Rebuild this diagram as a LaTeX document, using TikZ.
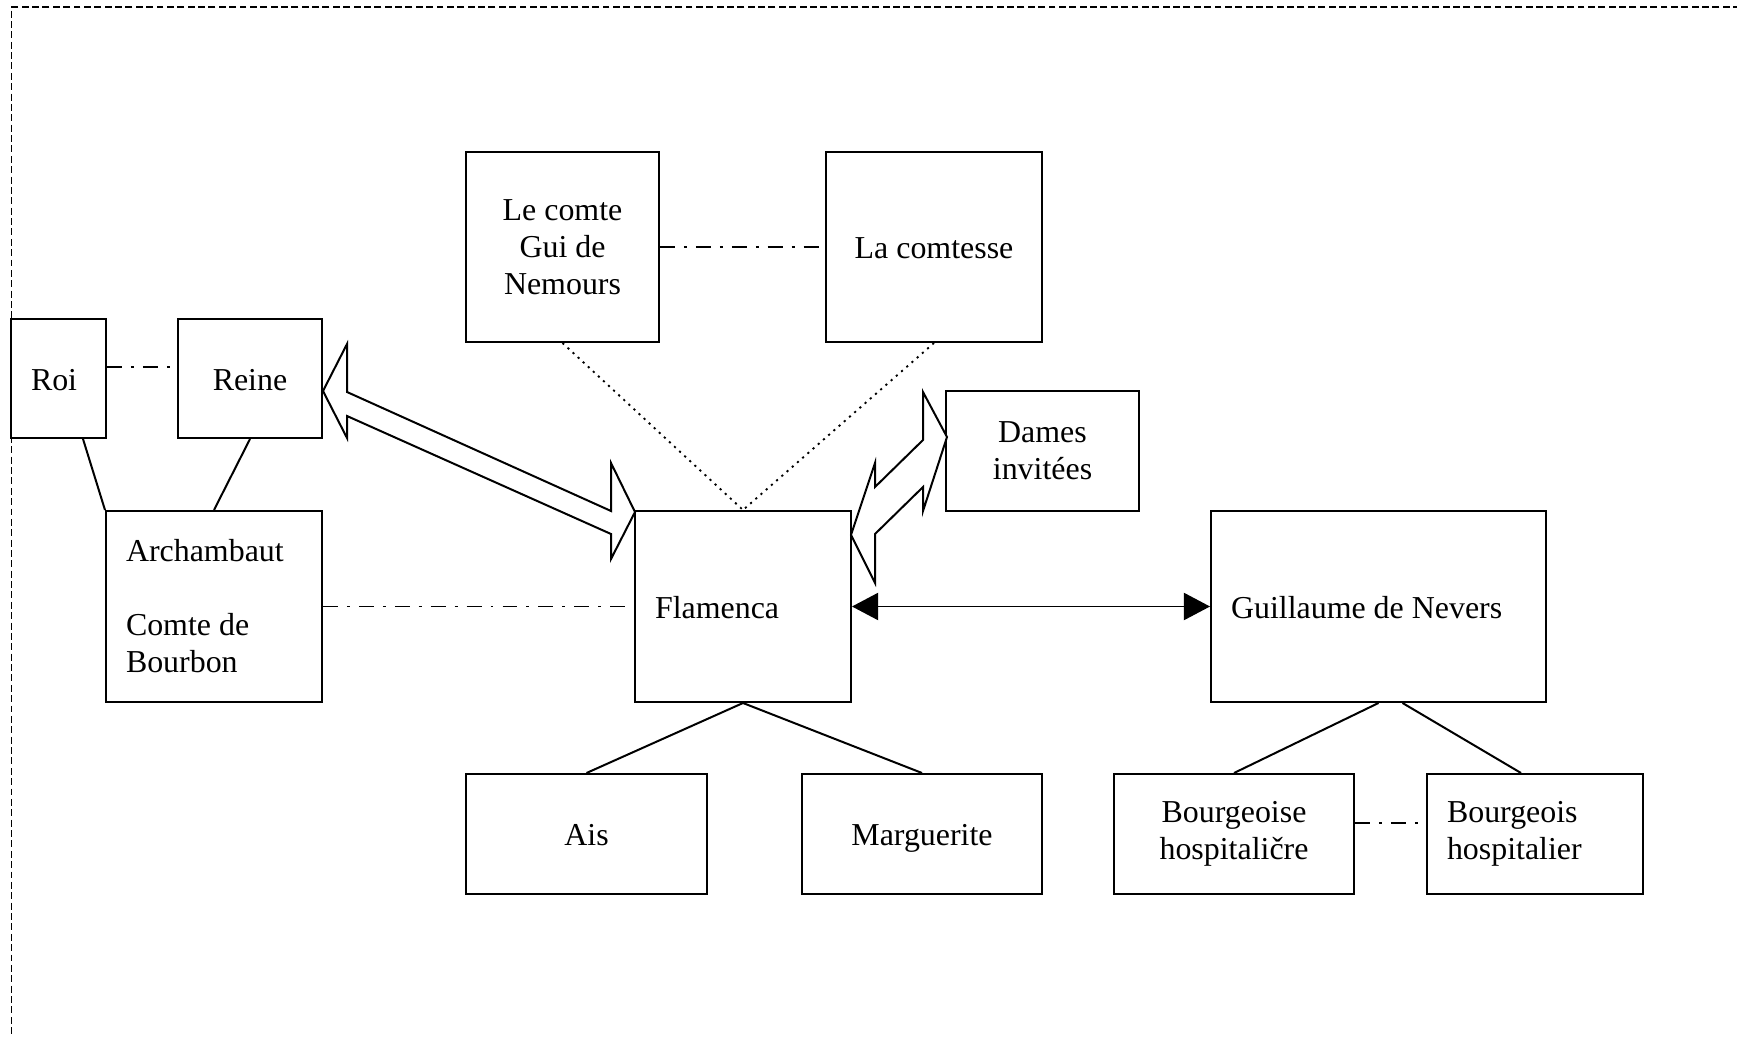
\documentclass[tikz,border=0pt]{standalone}
\usepackage{fontspec}
\setmainfont{Liberation Serif}
\usetikzlibrary{arrows.meta}
\def\pxu{0.376pt}
\begin{document}
\begin{tikzpicture}[x=\pxu, y=-\pxu,
  box/.style={draw, line width=0.75pt, inner sep=0pt, align=center,
    font=\fontsize{12}{13.9}\selectfont},
  lbox/.style={box, align=flush left, inner xsep=20*\pxu},
  oneline/.style={text height=9pt, text depth=0pt},
  dashdot/.style={line width=0.6pt,
    dash pattern=on 5.6pt off 3.4pt on 1.1pt off 3.4pt},
  dots/.style={line width=0.7pt, dash pattern=on 0.8pt off 1.8pt},
  tie/.style={line width=0.75pt},
  blockarrow/.style={draw, fill=white, line width=0.75pt, line join=miter},
  pair/.style={line width=0.6pt,
    {Triangle[length=9.8pt,width=10.2pt]}-{Triangle[length=9.8pt,width=10.2pt]}}]

\useasboundingbox (0,0) rectangle (1737,1037);

% page frame
\draw[line width=0.5pt, dash pattern=on 2.6pt off 1.3pt] (1740,7) -- (11.5,7) -- (11.5,1040);

% persons
\node[lbox, oneline, text width=55*\pxu, minimum height=119*\pxu] (roi) at (58.5,378.5) {Roi};
\node[box, oneline, minimum width=144*\pxu, minimum height=119*\pxu] (reine) at (250,378.5) {Reine};
\node[lbox, text width=176*\pxu, minimum height=191*\pxu] (arch) at (214,606.5)
  {Archambaut\\[13.9pt]Comte de\\Bourbon};
\node[box, minimum width=193*\pxu, minimum height=190*\pxu] (comte) at (562.5,247)
  {Le comte\\Gui de\\Nemours};
\node[box, oneline, minimum width=216*\pxu, minimum height=190*\pxu] (comtesse) at (934,247) {La comtesse};
\node[box, minimum width=193*\pxu, minimum height=120*\pxu] (dames) at (1042.5,451) {Dames\\invitées};
\node[lbox, oneline, text width=176*\pxu, minimum height=191*\pxu] (flam) at (743,606.5) {Flamenca};
\node[lbox, oneline, text width=295*\pxu, minimum height=191*\pxu] (guil) at (1378.5,606.5) {Guillaume de Nevers};
\node[box, oneline, minimum width=241*\pxu, minimum height=120*\pxu] (ais) at (586.5,834) {Ais};
\node[box, oneline, minimum width=240*\pxu, minimum height=120*\pxu] (marg) at (922,834) {Marguerite};
\node[box, minimum width=240*\pxu, minimum height=120*\pxu] (bgse) at (1234,834) {Bourgeoise\\hospitaličre};
\node[lbox, text width=176*\pxu, minimum height=120*\pxu] (bgs) at (1535,834) {Bourgeois\\hospitalier};

% couples
\draw[dashdot] ([yshift=11.5*\pxu]roi.east) -- ([yshift=11.5*\pxu]reine.west);
\draw[dashdot] (comte.east) -- (comtesse.west);
\draw[dashdot] (arch.east) -- (flam.west);
\draw[dashdot] ([yshift=11*\pxu]bgse.east) -- ([yshift=11*\pxu]bgs.west);

% parentage and servants
\draw[tie] ([xshift=24.5*\pxu]roi.south) -- (arch.north west);
\draw[tie] (reine.south) -- (arch.north);
\draw[tie] (flam.south) -- (ais.north);
\draw[tie] (flam.south) -- (marg.north);
\draw[tie] (guil.south) -- (bgse.north);
\draw[tie] ([xshift=24*\pxu]guil.south) -- ([xshift=-14*\pxu]bgs.north);

% guardians
\draw[dots] (comte.south) -- (flam.north);
\draw[dots] (comtesse.south) -- (flam.north);

% lovers
\draw[pair] (flam.east) -- (guil.west);

% exchanges drawn as hollow block arrows
\draw[blockarrow] (323,391) -- (347,344) -- (347,392) -- (611,511) -- (611,463)
  -- (635,512) -- (611,559) -- (611,534) -- (347,416) -- (347,438) -- cycle;
\draw[blockarrow] (851,535) -- (875,463) -- (875,487) -- (923,440) -- (923,392)
  -- (947,437) -- (923,511) -- (923,487) -- (875,534) -- (875,583) -- cycle;
\end{tikzpicture}
\end{document}
